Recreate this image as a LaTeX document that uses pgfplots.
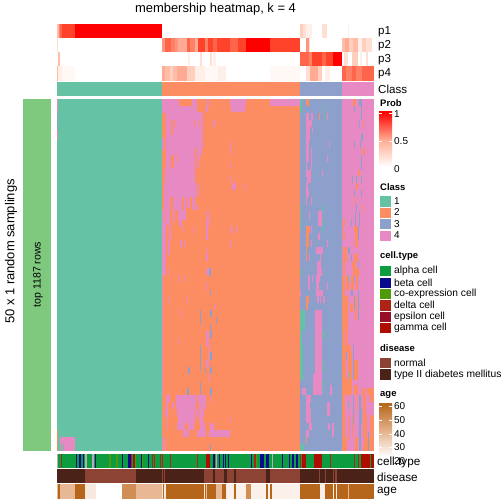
\documentclass[border=0pt]{standalone}
\usepackage{fontspec}
\setmainfont{Liberation Sans}
\usepackage{pgfplots}
\pgfplotsset{compat=1.18}
\definecolor{c1}{HTML}{66C2A5}\definecolor{c2}{HTML}{FC8D62}\definecolor{c3}{HTML}{8DA0CB}\definecolor{c4}{HTML}{E78AC3}
\definecolor{side}{HTML}{7FC97F}
\definecolor{ta}{HTML}{0E9C41}\definecolor{tb}{HTML}{0A0A8C}\definecolor{tc}{HTML}{4E9A0B}\definecolor{td}{HTML}{AD2316}\definecolor{te}{HTML}{960F24}\definecolor{tg}{HTML}{AE0E00}\definecolor{tx}{HTML}{B0B0B0}
\definecolor{dn}{HTML}{8D4334}\definecolor{dt}{HTML}{4B2217}
\definecolor{a6}{HTML}{B5661A}\definecolor{a5}{HTML}{D08E56}\definecolor{a4}{HTML}{E8B894}\definecolor{a3}{HTML}{F9E8DD}\definecolor{a2}{HTML}{FBF0EA}
\definecolor{r1}{HTML}{FFEFE9}\definecolor{r2}{HTML}{FFDFD3}\definecolor{r3}{HTML}{FFCEBD}\definecolor{r4}{HTML}{FFBDA7}\definecolor{r5}{HTML}{FFAA92}\definecolor{r6}{HTML}{FF967C}\definecolor{r7}{HTML}{FF8064}\definecolor{r8}{HTML}{FF654B}\definecolor{r9}{HTML}{FF432B}\definecolor{ra}{HTML}{FF0000}\definecolor{rz}{HTML}{FFF8F5}
\def\Rr #1,#2,#3,#4,#5;{\addplot[fill=#5,draw=none,mark=none,forget plot] coordinates {(#1,#3)(#2,#3)(#2,#4)(#1,#4)} --cycle;}
\def\Pk #1,#2,#3,#4;{\Rr #1,#2,#3,#4,c4;}
\def\Or #1,#2,#3,#4;{\Rr #1,#2,#3,#4,c2;}
\def\Bl #1,#2,#3,#4;{\Rr #1,#2,#3,#4,c3;}
\def\Gn #1,#2,#3,#4;{\Rr #1,#2,#3,#4,c1;}
\def\St #1,#2,#3;{\Rr #1,#2,\sa,\sb,#3;}
\newcommand\fs[1]{\fontsize{#1}{#1}\selectfont}
\newcommand\Tx[4][west]{\node[anchor=#1,inner sep=0pt] at (axis cs:#2,#3) {#4};}
\begin{document}
\begin{tikzpicture}
\path[use as bounding box] (0,0) rectangle (504bp,504bp);
\begin{axis}[at={(0,0)},anchor=south west,scale only axis,width=504bp,height=504bp,xmin=0,xmax=504,ymin=0,ymax=504,y dir=reverse,hide axis,clip=false]
% p1
\def\sa{24}\def\sb{38}
\St 57,58.5,r4; \St 58.5,60,r7; \St 60,62,r8; \St 62,75,r9; \St 75,162,ra;
\St 300,303,r3; \St 303,306,r2; \St 306,312,r1; \St 322,327,r2; \St 348,349,r1;
% p2
\def\sa{38}\def\sb{52}
\St 57,58,r2;
\St 162,165,r6; \St 165,171,r8; \St 171,175,r7; \St 175,178,r6; \St 178,187,r5; \St 187,190,r8; \St 190,195,r7; \St 195,198,r5; \St 198,205,r9; \St 205,208,r7; \St 208,213,r9; \St 213,217,r8; \St 217,230,r9; \St 230,238,r8; \St 238,246,r9; \St 246,252,ra; \St 252,270,ra; \St 270,300,r9;
\St 306,309,r6; \St 309,310,r2;
\St 342,345,r4; \St 345,349,r5; \St 349,353,r3; \St 353,358,r4; \St 358,362,r1; \St 362,366,r3; \St 366,372,r2;
% p3
\def\sa{52}\def\sb{66}
\St 58,59.5,r4; \St 188,190,r1; \St 200,202,r2; \St 210,212,r2; \St 213,216,r1;
\St 300,306,r8; \St 306,309,r8; \St 309,312,r7; \St 312,316,r9; \St 316,322,r9; \St 322,326,r8; \St 326,333,r9; \St 333,342,ra;
\St 344,348,r2; \St 352,358,r3; \St 360,362,r1; \St 366,368,r2;
% p4
\def\sa{66}\def\sb{81}
\St 57,58,r4; \St 58,62,r1; \St 62,75,rz;
\St 162,165,r5; \St 165,170,r4; \St 170,173,r3; \St 173,177,r4; \St 177,187,r5; \St 187,195,r3; \St 195,205,r1; \St 205,218,rz; \St 218,226,r1; \St 270,300,rz;
\St 306,310,r2; \St 310,318,r5; \St 318,322,r3; \St 325,330,r1;
\St 342,346,r8; \St 346,352,r7; \St 352,356,r8; \St 356,362,r7; \St 362,374,r8;
% class
\def\sa{82}\def\sb{96}
\St 57,162,c1; \St 162,300,c2; \St 300,342,c3; \St 342,374,c4;
% sidebar
\Rr 23,51,99,451,side;
% main base
\def\sa{99}\def\sb{451}
\St 57,162,c1; \St 162,300,c2; \St 300,342,c3; \St 342,374,c4;
% class 1 overlays
\Pk 57,58,99,113; \Bl 57,58,113,130; \Pk 57,58,130,140; \Or 57,58,430,451; \Pk 60,75,437,451; \Gn 60.5,62,444,451; \Gn 63,64,444,451;
% class 2 pink top
\Pk 162,179,99,106; \Pk 192,197,99,106; \Pk 207,209,99,106;
\Pk 162,197,106,112; \Pk 206,208,106,112;
\Pk 162,203,112,128; \Pk 166,203,128,148; \Pk 166,202,148,155; \Pk 166,200,155,168; \Pk 165,195,168,183; \Pk 164,196,183,197; \Pk 197,199,183,197;
\Or 162,166,113,138; \Or 171,173,120,135; \Or 174,175,120,127; \Or 195,196,120,127; \Or 199,200,120,127; \Pk 213,215,120,127;
\Pk 162,164,138,150; \Or 195,197,148,168; \Or 171,174,155,168; \Or 177,178,155,162; \Or 198,199,160,168;
\Pk 230,246,99,106; \Pk 231,245,106,112; \Pk 270,300,99,106;
\Pk 230,231,141,155; \Pk 230,231,162,168; \Pk 230,231,176,183; \Pk 232,236,183,190; \Pk 245,246,183,190;
\Pk 164,170,197,210; \Pk 173,182,197,210; \Pk 184,186,197,210; \Pk 187,190,197,208; \Pk 192,195,197,210; \Pk 196,198,205,210;
\Pk 162,170,210,225; \Or 164,165,210,222; \Pk 173,175,210,222; \Pk 178,186,210,220; \Pk 207,209,211,219; \Pk 206,209,219,227; \Pk 179,182,219,226;
\Pk 162,166,225,238; \Pk 169,171,225,240; \Pk 183,184,225,233; \Pk 193,194,227,233; \Pk 206,208,226,240; \Pk 231,233,226,233; \Pk 236,237,226,233;
\Pk 162,165.5,238,275; \Pk 168,170,240,255; \Pk 180,182,240,247; \Pk 185,186,240,248; \Pk 206,207,247,255; \Pk 230,231,240,248; \Pk 206,208,254,261; \Pk 207,209,268,275; \Bl 209,211,268,276;
\Pk 162,163,270,395; \Pk 169,170,270,275; \Pk 178,179,275,282; \Pk 185,186,275,282; \Pk 206,209,270,275; \Bl 210,211,270,275;
\Pk 206,207,282,290; \Bl 210,211,290,296; \Pk 169,170,296,303; \Pk 187,188,296,303; \Pk 215,216,303,310; \Pk 181,182,310,317; \Bl 200,201,310,325; \Bl 210,212,310,317; \Bl 216,217,317,324; \Bl 210,211,324,331;
\Pk 206,209,331,338; \Pk 206,209,338,346; \Bl 210,212,331,338; \Pk 178,179,338,345; \Bl 200,201,345,370; \Pk 208,209,345,360; \Bl 210,212,352,360; \Pk 206,209,360,367; \Bl 210,212,367,374; \Bl 188,190,367,374; \Bl 205,206,367,374; \Pk 208,209,374,382; \Bl 200,201,382,395; \Bl 187,189,388,395; \Bl 210,212,388,395;
% class 2 pink lower
\Pk 166,170,395,402; \Pk 176,197,395,402; \Pk 198,206,395,402; \Pk 211,212,395,402;
\Pk 166,168,402,409; \Pk 172,174,402,409; \Pk 176,196,402,409; \Pk 199,206,402,409;
\Pk 165,168,409,417; \Pk 177,195,409,417; \Pk 196,198,409,417; \Pk 199,204,409,417;
\Pk 166,167,417,423; \Pk 178,195,417,423; \Pk 199,203,417,423; \Pk 230,231,417,423;
\Pk 167,168,423,430; \Pk 177,185,423,430; \Pk 188,194,423,430; \Pk 200,205,423,430; \Pk 210,214,423,430;
\Pk 183,189,430,437; \Pk 197,206,430,437; \Pk 209,230,430,437;
\Pk 163,164,437,451; \Pk 165,166,437,451; \Bl 210,211,444,451;
% class 3
\Gn 300,301.5,99,113; \Or 306,309,99,106; \Gn 322,323,106,112;
\Pk 306,309,113,120; \Pk 311,313,113,120; \Or 319,320,113,120; \Gn 325,326,113,120; \Pk 327,328,113,120;
\Pk 306,312,120,127; \Pk 306,310,127,133; \Pk 312,313,127,133; \Pk 306,310,133,141;
\Pk 306,309,141,162; \Pk 311,312,148,170; \Pk 329,330,141,148; \Pk 327,328,155,162; \Pk 306,307,162,170;
\Pk 306,311,170,177; \Pk 322,323,170,176; \Pk 307,311,177,183; \Pk 306,308,183,190; \Pk 306,309,190,197; \Pk 311,312,197,205; \Pk 306,307,197,205;
\Pk 318,322,211,226; \Pk 309,310,211,220; \Gn 300,301,205,230; \Gn 322,323,205,212; \Gn 322,323,219,226;
\Or 306,310,226,233; \Pk 311,312,226,233; \Gn 322,323,226,233; \Pk 318,320,233,240; \Or 306,309,233,247; \Pk 311,312,240,247; \Pk 327,328,240,247; \Or 306,307,247,262; \Pk 316,323,247,254; \Pk 309,310,254,261; \Pk 320,321,254,261; \Pk 317,321,261,268; \Pk 317,322,268,276; \Gn 300,301,268,276;
\Pk 308,310,275,282; \Pk 312,313,275,282; \Pk 316,320,275,282; \Pk 308,310,282,290; \Pk 316,319,282,290; \Pk 327,328,282,290; \Pk 300,301,290,296; \Pk 316,323,290,296; \Or 306,309,296,303; \Pk 317,319,296,303; \Pk 320,321,296,303; \Pk 323,325,296,303; \Or 306,308,303,310;
\Pk 315,322,310,395; \Gn 300,305,310,330; \Gn 300,302,330,345; \Gn 300,303,345,380; \Gn 323,325,331,338; \Gn 323,324,360,372; \Gn 323,324,380,392; \Pk 313,315,374,395; \Pk 330,332,385,395; \Pk 302,306,388,395;
\Pk 306,311,395,402; \Pk 306,309.5,402,409; \Pk 306,311,409,423; \Pk 327,330,402,416; \Pk 328,330,423,430; \Pk 333,334,423,430; \Pk 309,312,423,430; \Pk 306,309,430,437; \Pk 332,334,423,437; \Or 306,307,437,444; \Gn 300,304,444,451;
% class 4 upper
\Or 353,356,99,106; \Bl 359,362,99,106; \Bl 354,355,106,112; \Bl 361,362,106,120; \Bl 359,360,120,127; \Or 363,364,120,127; \Bl 361,363,134,141; \Bl 354,355,141,148; \Bl 360,361,141,148; \Or 363,365,148,155; \Bl 361,362,155,170; \Or 358,360,170,176; \Bl 352,353,176,183; \Bl 356,357,176,183; \Bl 361,362,176,183; \Or 356,358,183,190; \Bl 354,355,190,197; \Bl 361,362,190,197; \Or 355,356,197,204; \Bl 356,357,204,211; \Or 363,364,205,211; \Bl 355,356,211,226; \Bl 359,360,211,226; \Or 343,345,219,226; \Bl 351,352,219,226; \Or 343,344,226,233; \Or 354,358,226,233; \Or 355,358,233,247; \Or 343,345,233,240; \Bl 358,359,226,240; \Bl 348,350,247,254; \Or 343,347,247,254; \Or 343,347,254,262; \Bl 351,352,254,262; \Or 354,358,254,262; \Or 343,345,262,276; \Or 352,356,262,268; \Bl 358,359,262,268; \Or 353,359,268,276;
% class 4 middle
\Or 342,345,276,395;
\Or 346,349,276,290; \Gn 348,349,275,282; \Or 351,354,276,290; \Bl 354,355,276,282; \Or 356,358,276,290;
\Or 345,348,296,330; \Bl 351,353,290,296; \Or 350,353,303,312; \Bl 354,355,296,310; \Or 355,357,296,320; \Bl 358,359,290,320;
\Or 346,348,330,345; \Or 345,351,345,352; \Bl 346,347,352,360; \Or 348,352,352,378; \Or 345,346,352,378; \Bl 353,354,345,380; \Or 354,358,360,380; \Gn 349,350,372,382;
\Or 342,352,378,395; \Or 354,358,385,395; \Or 362,365,388,395; \Or 367,374,388,395;
% class 4 lower
\Or 342,345,395,451; \Bl 359,361,395,451; \Or 357,358,395,410; \Or 355,358,437,451; \Bl 353,354,395,425; \Gn 348,349,402,409; \Or 349,350,415,440; \Or 352,353,415,437; \Or 345,347,437,451; \Or 363,366,395,415; \Or 370,374,395,402; \Or 363,374,415,451; \Pk 367,370,415,437; \Bl 361,362,409,423; \Bl 368,369,432,451; \Pk 361,364,437,445;
% cell.type
\def\sa{454}\def\sb{468}
\St 57,374,ta;
\St 57,58,tx; \St 61,62,td; \St 76,77,tb; \St 79,81,tb; \St 83,84,tb; \St 85,87,tx; \St 92,94,tx; \St 95,96,tb; \St 109,111,tc; \St 116,118,tc; \St 122,123,tb; \St 128,131,tb; \St 131,132,td; \St 133,135,tg; \St 135,136,tc; \St 141,142,tb; \St 142,143,tc; \St 148,149,tb; \St 152,153,td; \St 154,155,td; \St 160,161,td; \St 162,163,td; \St 170,171,td; \St 197,198,td;
\St 206,210,tg; \St 213,215,tb; \St 215,216,tc; \St 216,217,tx; \St 219,220,tb; \St 223,224,tb; \St 225,226,tb; \St 228,229,tb; \St 251,252,tb; \St 254,256,td; \St 256,257,tc; \St 260,264,tb; \St 266,269,tb; \St 272,273,tx; \St 282,283,tb; \St 289,290,tb; \St 292,294,tb; \St 296,298,tb; \St 300,301,td; \St 302,306,tg; \St 314,322,tg; \St 330,331,td; \St 354,355,td; \St 358,359,td; \St 361,370,tg; \St 371,374,tg;
% disease
\def\sa{469}\def\sb{483}
\St 57,374,dt;
\St 85,136,dn; \St 162,163,dn; \St 164,165,dn; \St 204,213,dn; \St 215,224,dn; \St 227,234,dn; \St 236,266,dn; \St 270,300,dn; \St 319,320,dn; \St 325,326,dn; \St 333,334,dn; \St 335,337,dn;
% age
\def\sa{484}\def\sb{499}
\St 57,374,a6;
\St 57,58,a4; \St 60,75,a4; \St 85,96,a3; \St 96,122,white; \St 122,136,a5; \St 136,162,a4; \St 162,163,a3; \St 164,166,a3;
\St 204,205,a3; \St 206,207,a4; \St 216,222,a4; \St 226,227,a3; \St 227,234,a2; \St 236,246,a2; \St 246,251,a5; \St 251,266,a2; \St 268,270,a2; \St 272,300,a2; \St 320,325,a2; \St 333,334,a2; \St 336,337,a2; \St 348,349,a4;
% legend swatches
\Rr 380,391,196,206.5,c1;
\Rr 380,391,207.5,217.5,c2; \Rr 380,391,219,229,c3; \Rr 380,391,230.5,240.5,c4;
\Rr 380,391,265.5,276,ta; \Rr 380,391,277.5,288,tb; \Rr 380,391,289,299,tc; \Rr 380,391,300,310.5,td; \Rr 380,391,311.5,322,te; \Rr 380,391,323,333,tg;
\Rr 380,391,357.5,368,dn; \Rr 380,391,369,380,dt;
% gradients
\fill[top color=red,bottom color=white,middle color=r5] (axis cs:379,112) rectangle (axis cs:392,167);
\fill[red] (axis cs:379,111) rectangle (axis cs:392,112);
\draw[white,line width=.4pt] (axis cs:379,113) -- (axis cs:382,113) (axis cs:389,113) -- (axis cs:392,113) (axis cs:379,141) -- (axis cs:382,141) (axis cs:389,141) -- (axis cs:392,141);
\fill[top color=a6,bottom color=white,middle color=a4!80!a5] (axis cs:379,403) rectangle (axis cs:392,457);
\draw[white,line width=.4pt] \foreach \yy in {406,420,434,447} {(axis cs:379,\yy) -- (axis cs:382,\yy) (axis cs:389,\yy) -- (axis cs:392,\yy)};
% texts
\Tx[center]{215.5}{9.5}{\fs{13}membership heatmap, k = 4}
\node[rotate=90,inner sep=0pt] at (axis cs:11,251.5) {\fs{13}50 x 1 random samplings};
\node[rotate=90,inner sep=0pt] at (axis cs:38,274.5) {\fs{10.6}top 1187 rows};
\Tx{378}{32}{\fs{11.6}p1} \Tx{378}{46}{\fs{11.6}p2} \Tx{378}{60}{\fs{11.6}p3} \Tx{378}{74}{\fs{11.6}p4} \Tx{378}{89}{\fs{11.6}Class}
\Tx{380}{103}{\fs{9.5}\bfseries Prob} \Tx{394}{114}{\fs{10}1} \Tx{394}{141}{\fs{10}0.5} \Tx{394}{169}{\fs{10}0}
\Tx{380}{187}{\fs{9.5}\bfseries Class} \Tx{394}{201}{\fs{10}1} \Tx{394}{212.5}{\fs{10}2} \Tx{394}{224}{\fs{10}3} \Tx{394}{235.5}{\fs{10}4}
\Tx{380}{256}{\fs{9.5}\bfseries cell.type} \Tx{394}{271}{\fs{10.3}alpha cell} \Tx{394}{283}{\fs{10.3}beta cell} \Tx{394}{294}{\fs{10.3}co-expression cell} \Tx{394}{305}{\fs{10.3}delta cell} \Tx{394}{317}{\fs{10.3}epsilon cell} \Tx{394}{328}{\fs{10.3}gamma cell}
\Tx{380}{348}{\fs{9.5}\bfseries disease} \Tx{394}{363}{\fs{10.3}normal} \Tx{394}{375}{\fs{10.3}type II diabetes mellitus}
\Tx{380}{395}{\fs{9.5}\bfseries age} \Tx{394}{406}{\fs{10}60} \Tx{394}{420}{\fs{10}50} \Tx{394}{434}{\fs{10}40} \Tx{394}{447}{\fs{10}30} \Tx{394}{461}{\fs{10}20}
\Tx{377}{462}{\fs{11.8}cell.type} \Tx{377}{477}{\fs{11.8}disease} \Tx{377}{492}{\fs{11.8}age}
\end{axis}
\end{tikzpicture}
\end{document}
